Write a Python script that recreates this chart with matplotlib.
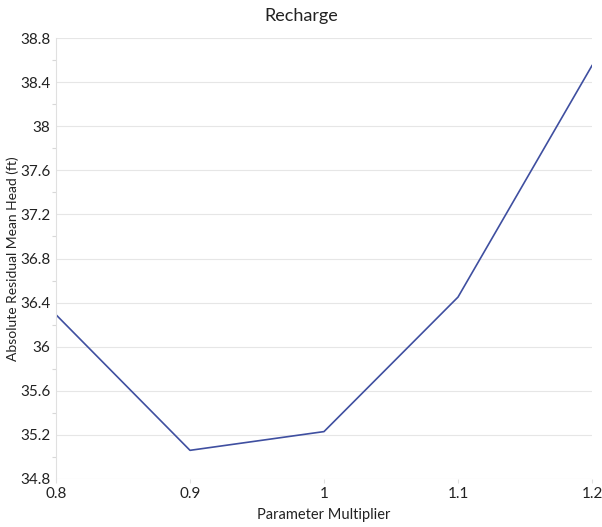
import matplotlib
matplotlib.use("Agg")
import matplotlib.pyplot as plt
from matplotlib.ticker import MultipleLocator, FuncFormatter

multiplier = [0.8, 0.9, 1.0, 1.1, 1.2]
abs_residual_mean = [36.29, 35.06, 35.23, 36.45, 38.55]
x_ticks = [0.8, 0.9, 1.0, 1.1, 1.2]
y_ticks = [34.8, 35.2, 35.6, 36.0, 36.4, 36.8, 37.2, 37.6, 38.0, 38.4, 38.8]

plt.rcParams['font.family'] = ['Lato', 'DejaVu Sans']

fig = plt.figure(figsize=(6.02, 5.27), dpi=100)
ax = fig.add_axes([56 / 602, 1 - 479 / 527, (592 - 56) / 602, (479 - 38) / 527])

ax.plot(multiplier, abs_residual_mean, color='#3F4FA0', linewidth=1.2)

ax.set_xlim(0.8, 1.2)
ax.set_ylim(34.8, 38.8)
ax.set_xticks(x_ticks)
ax.set_yticks(y_ticks)

def fmt(v, pos):
    s = f"{v:.1f}"
    return s[:-2] if s.endswith(".0") else s

ax.xaxis.set_major_formatter(FuncFormatter(fmt))
ax.yaxis.set_major_formatter(FuncFormatter(fmt))
ax.yaxis.set_minor_locator(MultipleLocator(0.2))

ax.grid(axis='y', which='major', color='#E6E6E6', linewidth=0.8)
for side in ('top', 'right', 'bottom'):
    ax.spines[side].set_visible(False)
ax.spines['left'].set_color('#E0E0E0')
ax.spines['left'].set_linewidth(0.8)

ax.tick_params(axis='y', which='major', length=0, labelsize=11, labelcolor='#222222', pad=4)
ax.tick_params(axis='y', which='minor', length=3, color='#D8D8D8', width=0.8)
ax.tick_params(axis='x', which='major', length=3, color='#E0E0E0', labelsize=11, labelcolor='#222222', pad=3)

ax.set_xlabel('Parameter Multiplier', fontsize=10.5, color='#222222', labelpad=5)
ax.set_ylabel('Absolute Residual Mean Head (ft)', fontsize=10, color='#222222', labelpad=1)
fig.suptitle('Recharge', x=0.5, y=0.985, fontsize=13, color='#222222')

fig.savefig('out.png', dpi=100, facecolor='white')
